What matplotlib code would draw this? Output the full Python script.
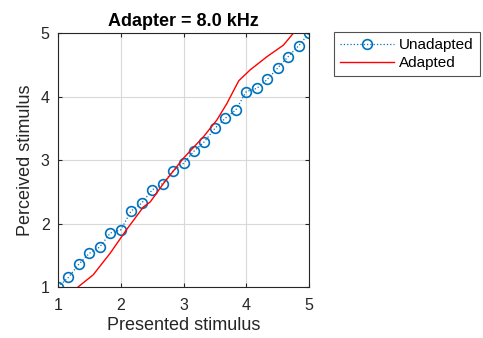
import numpy as np
import matplotlib.pyplot as plt

plt.rcParams['font.family'] = ['Liberation Sans', 'DejaVu Sans']

# values
presented = np.linspace(1, 5, 25)
unadapted = [1.00, 1.15, 1.36, 1.53, 1.63, 1.85, 1.90, 2.20, 2.32, 2.53, 2.63, 2.83, 2.95,
             3.14, 3.29, 3.50, 3.66, 3.79, 4.08, 4.13, 4.27, 4.45, 4.63, 4.80, 5.00]
adapted_x = [1.32, 1.56, 1.83, 2.09, 2.36, 2.47, 2.68, 3.00, 3.32, 3.53, 3.69, 3.80, 3.88,
             4.06, 4.33, 4.59, 4.75]
adapted_y = [1.00, 1.19, 1.53, 1.90, 2.26, 2.34, 2.63, 3.03, 3.37, 3.63, 3.89, 4.10, 4.25,
             4.42, 4.63, 4.81, 5.00]

fig = plt.figure(figsize=(4.83, 3.38), dpi=100)
ax = fig.add_axes([0.120, 0.151, 0.520, 0.751])

ax.plot(presented, unadapted, ':', color='#0072BD', lw=0.9, marker='o', ms=7,
        mfc='none', mew=1.2, label='Unadapted')
ax.plot(adapted_x, adapted_y, '-', color='#FF0000', lw=1.0, label='Adapted')

ax.set_xlim(1, 5)
ax.set_ylim(1, 5)
ax.set_xticks([1, 2, 3, 4, 5])
ax.set_yticks([1, 2, 3, 4, 5])
ax.grid(True, color='#d9d9d9', lw=0.8)
ax.tick_params(direction='in', length=3, labelsize=11.5, colors='#262626',
               top=True, right=True)
ax.tick_params(axis='x', pad=8)
ax.tick_params(axis='y', pad=6)
for s in ax.spines.values():
    s.set_color('#262626')
    s.set_linewidth(0.8)

ax.set_xlabel('Presented stimulus', fontsize=13, color='#262626', labelpad=3)
ax.set_ylabel('Perceived stimulus', fontsize=13, color='#262626', labelpad=5)
ax.set_title('Adapter = 8.0 kHz', fontsize=13, fontweight='bold', pad=5)

leg = ax.legend(loc='upper left', bbox_to_anchor=(1.1, 1.004), fontsize=11,
                frameon=True, fancybox=False, borderpad=0.4, handlelength=3.5,
                handletextpad=0.33, labelspacing=0.25, borderaxespad=0)
leg.get_frame().set_edgecolor('#262626')
leg.get_frame().set_linewidth(0.8)

fig.savefig('out.png', dpi=100)
